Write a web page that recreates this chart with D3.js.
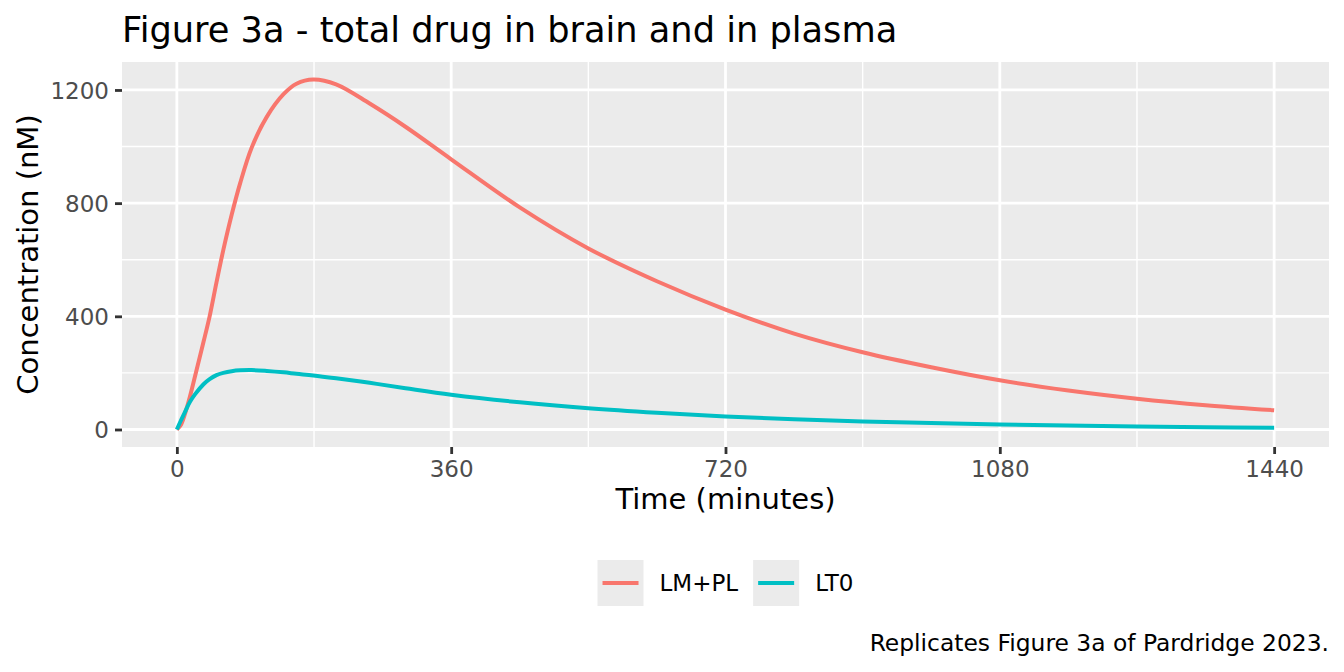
<!DOCTYPE html>
<html>
<head>
<meta charset="utf-8">
<script src="https://cdn.jsdelivr.net/npm/d3@7/dist/d3.min.js"></script>
<style>
  html, body { margin: 0; padding: 0; background: #fff; }
  svg { display: block; font-family: "DejaVu Sans", sans-serif; }
</style>
</head>
<body>
<div id="chart"></div>
<script>
// time points (minutes)
const TIMES = [0, 5, 10, 17, 24, 35, 43, 52, 61, 72, 83, 98, 118, 140, 157, 179, 209, 253, 300, 360,
               450, 540, 630, 720, 810, 900, 990, 1080, 1170, 1260, 1350, 1440];
// total drug, nM
const LM_PL = [0, 15, 50, 115, 190, 310, 400, 520, 635, 760, 870, 995, 1105, 1185, 1222, 1237, 1220, 1152, 1070, 955,
               785, 640, 524, 424, 339, 273, 220, 174, 138, 109, 86, 68];
const LT0 = [0, 30, 58, 97, 125, 160, 178, 192, 200, 206, 209, 210, 207, 202, 197, 191, 181, 165, 146, 123,
             96, 75, 59, 46, 36, 28, 23, 18, 14, 11, 8, 6];
const SERIES = [
  { name: 'LM+PL', values: LM_PL, color: '#F8766D' },
  { name: 'LT0', values: LT0, color: '#00BFC4' }
];
const X_MAJOR = [0, 360, 720, 1080, 1440];
const X_MINOR = [180, 540, 900, 1260];
const Y_MAJOR = [0, 400, 800, 1200];
const Y_MINOR = [200, 600, 1000];

const W = 1344, H = 672;
const P = { l: 122, r: 1329, t: 62, b: 447 };

const svg = d3.select('#chart').append('svg').attr('width', W).attr('height', H);

// ggplot style 5% expansion
const xExt = d3.extent(TIMES), xPad = (xExt[1] - xExt[0]) * 0.05;
const yMax = d3.max(SERIES, s => d3.max(s.values)), yMin = d3.min(SERIES, s => d3.min(s.values));
const yPad = (yMax - yMin) * 0.05;
const x = d3.scaleLinear().domain([xExt[0] - xPad, xExt[1] + xPad]).range([P.l, P.r]);
const y = d3.scaleLinear().domain([yMin - yPad, yMax + yPad]).range([P.b, P.t]);

// panel
svg.append('rect').attr('x', P.l).attr('y', P.t).attr('width', P.r - P.l).attr('height', P.b - P.t).attr('fill', '#EBEBEB');
const grid = svg.append('g');
grid.selectAll('line.ymin').data(Y_MINOR).join('line')
  .attr('x1', P.l).attr('x2', P.r).attr('y1', d => y(d)).attr('y2', d => y(d))
  .attr('stroke', '#fff').attr('stroke-width', 1.4);
grid.selectAll('line.xmin').data(X_MINOR).join('line')
  .attr('y1', P.t).attr('y2', P.b).attr('x1', d => x(d)).attr('x2', d => x(d))
  .attr('stroke', '#fff').attr('stroke-width', 1.4);
grid.selectAll('line.ymaj').data(Y_MAJOR).join('line')
  .attr('x1', P.l).attr('x2', P.r).attr('y1', d => y(d)).attr('y2', d => y(d))
  .attr('stroke', '#fff').attr('stroke-width', 2.8);
grid.selectAll('line.xmaj').data(X_MAJOR).join('line')
  .attr('y1', P.t).attr('y2', P.b).attr('x1', d => x(d)).attr('x2', d => x(d))
  .attr('stroke', '#fff').attr('stroke-width', 2.8);

// axes
const xAxis = svg.append('g').attr('transform', `translate(0,${P.b})`)
  .call(d3.axisBottom(x).tickValues(X_MAJOR).tickSize(7).tickPadding(5).tickFormat(d3.format('d')));
const yAxis = svg.append('g').attr('transform', `translate(${P.l},0)`)
  .call(d3.axisLeft(y).tickValues(Y_MAJOR).tickSize(7).tickPadding(6).tickFormat(d3.format('d')));
[xAxis, yAxis].forEach(a => {
  a.select('.domain').remove();
  a.selectAll('.tick line').attr('stroke', '#333333').attr('stroke-width', 2.8);
  a.selectAll('.tick text').attr('fill', '#4D4D4D').attr('font-size', 23).attr('font-family', 'DejaVu Sans');
});
xAxis.selectAll('.tick text').attr('dy', null).attr('y', 30);
yAxis.selectAll('.tick text').attr('dy', '0.36em');

// lines
const line = d3.line().x((d, i) => x(TIMES[i])).y(d => y(d)).curve(d3.curveCatmullRom.alpha(0.5));
svg.append('g').selectAll('path').data(SERIES).join('path')
  .attr('d', s => line(s.values)).attr('fill', 'none')
  .attr('stroke', s => s.color).attr('stroke-width', 4).attr('stroke-linejoin', 'round');

// titles
svg.append('text').attr('x', P.l).attr('y', 42).attr('font-size', 35.2).attr('fill', '#000')
  .text('Figure 3a - total drug in brain and in plasma');
svg.append('text').attr('x', (P.l + P.r) / 2).attr('y', 509).attr('text-anchor', 'middle')
  .attr('font-size', 29).attr('fill', '#000').text('Time (minutes)');
svg.append('text').attr('transform', `translate(38,${(P.t + P.b) / 2}) rotate(-90)`).attr('text-anchor', 'middle')
  .attr('font-size', 29).attr('fill', '#000').text('Concentration (nM)');
svg.append('text').attr('x', P.r).attr('y', 651).attr('text-anchor', 'end')
  .attr('font-size', 23.4).attr('fill', '#000').text('Replicates Figure 3a of Pardridge 2023.');

// legend (centred under the panel)
const KEY = 46, GAP_LABEL = 16, GAP_ITEM = 15, LEG_Y = 560;
const leg = svg.append('g');
const items = leg.selectAll('g').data(SERIES).join('g');
items.append('rect').attr('width', KEY).attr('height', KEY).attr('fill', '#EBEBEB');
items.append('line').attr('x1', 5).attr('x2', KEY - 5).attr('y1', KEY / 2).attr('y2', KEY / 2)
  .attr('stroke', s => s.color).attr('stroke-width', 4);
items.append('text').attr('x', KEY + GAP_LABEL).attr('y', KEY / 2).attr('dy', '0.36em')
  .attr('font-size', 23).attr('fill', '#000').text(s => s.name);
let off = 0;
const widths = [];
items.each(function () {
  const w = KEY + GAP_LABEL + d3.select(this).select('text').node().getComputedTextLength();
  widths.push(w);
});
const total = d3.sum(widths) + GAP_ITEM * (widths.length - 1);
const start = (P.l + P.r) / 2 - total / 2;
items.attr('transform', (d, i) => {
  const t = `translate(${start + off},${LEG_Y})`;
  off += widths[i] + GAP_ITEM;
  return t;
});
</script>
</body>
</html>
